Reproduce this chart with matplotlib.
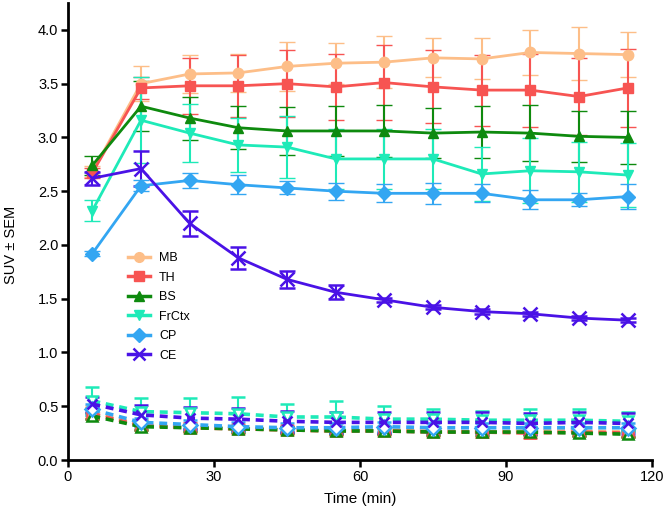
import matplotlib
matplotlib.use("Agg")
import matplotlib.pyplot as plt

plt.rcParams['font.family'] = ['Liberation Sans', 'DejaVu Sans']

time = [5, 15, 25, 35, 45, 55, 65, 75, 85, 95, 105, 115]
regions = ["MB", "TH", "BS", "FrCtx", "CP", "CE"]
colors = ["#FDBE88", "#F75452", "#0E8A0E", "#1EEAB8", "#33A6F2", "#4A12E6"]
markers = ["o", "s", "^", "v", "D", "x"]

# baseline scan (solid lines)
mb = [2.68, 3.50, 3.59, 3.60, 3.66, 3.69, 3.70, 3.74, 3.73, 3.79, 3.78, 3.77]
mb_err = [0.05, 0.16, 0.18, 0.18, 0.23, 0.19, 0.24, 0.18, 0.19, 0.21, 0.25, 0.21]
th = [2.67, 3.46, 3.48, 3.48, 3.50, 3.47, 3.51, 3.47, 3.44, 3.44, 3.38, 3.46]
th_err = [0.05, 0.10, 0.26, 0.29, 0.31, 0.31, 0.35, 0.34, 0.33, 0.34, 0.36, 0.36]
bs = [2.74, 3.29, 3.18, 3.09, 3.06, 3.06, 3.06, 3.04, 3.05, 3.04, 3.01, 3.00]
bs_err = [0.09, 0.23, 0.20, 0.20, 0.22, 0.23, 0.24, 0.23, 0.24, 0.26, 0.24, 0.25]
frctx = [2.32, 3.16, 3.04, 2.93, 2.91, 2.80, 2.80, 2.80, 2.66, 2.69, 2.68, 2.65]
frctx_err = [0.10, 0.40, 0.27, 0.25, 0.29, 0.28, 0.28, 0.28, 0.25, 0.30, 0.28, 0.30]
cp = [1.92, 2.55, 2.60, 2.56, 2.53, 2.50, 2.48, 2.48, 2.48, 2.42, 2.42, 2.45]
cp_err = [0.02, 0.05, 0.07, 0.09, 0.06, 0.08, 0.085, 0.10, 0.085, 0.09, 0.06, 0.12]
ce = [2.62, 2.71, 2.20, 1.88, 1.68, 1.56, 1.49, 1.42, 1.38, 1.36, 1.32, 1.30]
ce_err = [0.06, 0.16, 0.12, 0.10, 0.08, 0.065, 0.02, 0.02, 0.02, 0.02, 0.02, 0.02]

# blocked scan (dashed lines)
mb_b = [0.45, 0.33, 0.30, 0.29, 0.28, 0.27, 0.28, 0.27, 0.26, 0.27, 0.27, 0.26]
mb_b_err = [0.05, 0.04, 0.04, 0.04, 0.04, 0.04, 0.04, 0.04, 0.04, 0.04, 0.04, 0.04]
th_b = [0.43, 0.32, 0.30, 0.29, 0.28, 0.27, 0.27, 0.26, 0.26, 0.25, 0.26, 0.25]
th_b_err = [0.05, 0.04, 0.04, 0.04, 0.04, 0.04, 0.04, 0.04, 0.05, 0.05, 0.04, 0.04]
bs_b = [0.41, 0.31, 0.30, 0.29, 0.28, 0.27, 0.27, 0.26, 0.26, 0.26, 0.25, 0.24]
bs_b_err = [0.03, 0.03, 0.03, 0.03, 0.03, 0.03, 0.03, 0.03, 0.03, 0.03, 0.03, 0.03]
frctx_b = [0.55, 0.45, 0.44, 0.43, 0.40, 0.40, 0.38, 0.38, 0.37, 0.37, 0.37, 0.36]
frctx_b_err = [0.13, 0.13, 0.14, 0.16, 0.12, 0.15, 0.12, 0.09, 0.09, 0.10, 0.10, 0.09]
cp_b = [0.47, 0.35, 0.33, 0.31, 0.30, 0.30, 0.31, 0.30, 0.30, 0.30, 0.30, 0.30]
cp_b_err = [0.05, 0.04, 0.04, 0.04, 0.04, 0.04, 0.04, 0.04, 0.04, 0.04, 0.04, 0.04]
ce_b = [0.52, 0.42, 0.39, 0.38, 0.36, 0.35, 0.35, 0.35, 0.35, 0.34, 0.35, 0.34]
ce_b_err = [0.07, 0.09, 0.10, 0.10, 0.10, 0.10, 0.10, 0.10, 0.10, 0.10, 0.10, 0.10]

solid = [(mb, mb_err), (th, th_err), (bs, bs_err), (frctx, frctx_err), (cp, cp_err), (ce, ce_err)]
dashed = [(mb_b, mb_b_err), (th_b, th_b_err), (bs_b, bs_b_err), (frctx_b, frctx_b_err),
          (cp_b, cp_b_err), (ce_b, ce_b_err)]

fig = plt.figure(figsize=(6.66, 5.12), dpi=100)
ax = fig.add_axes([68 / 666, 1 - 460 / 512, 584 / 666, 457 / 512])

for (vals, err), col, mk in zip(dashed, colors, markers):
    ax.errorbar(time, vals, yerr=err, color=col, marker=mk, markersize=7,
                markerfacecolor="white" if mk != "x" else col, markeredgewidth=1.8,
                linestyle=(0, (2.2, 1.6)), linewidth=2.6, capsize=5, capthick=1.5, elinewidth=1.5)

handles = []
for (vals, err), col, mk, name in zip(solid, colors, markers, regions):
    ax.errorbar(time, vals, yerr=err, color=col, marker=mk,
                markersize=10 if mk == "x" else 7.5, markeredgewidth=1.8 if mk == "x" else 1,
                linewidth=2, capsize=6, capthick=1.5, elinewidth=1.5)
    h, = ax.plot([], [], color=col, marker=mk, markersize=9 if mk == "x" else 7,
                 markeredgewidth=1.8 if mk == "x" else 1, linewidth=2.5, label=name)
    handles.append(h)

ax.set_xlim(0, 120)
ax.set_ylim(0, 4.25)
ax.set_xticks([0, 30, 60, 90, 120])
ax.set_yticks([0, 0.5, 1.0, 1.5, 2.0, 2.5, 3.0, 3.5, 4.0])
ax.set_yticklabels(["0.0", "0.5", "1.0", "1.5", "2.0", "2.5", "3.0", "3.5", "4.0"])
ax.spines["top"].set_visible(False)
ax.spines["right"].set_visible(False)
ax.spines["left"].set_linewidth(2)
ax.spines["bottom"].set_linewidth(2)
ax.tick_params(length=5, width=1.8, labelsize=10.5, color="black", pad=2)
ax.set_xlabel("Time (min)", fontsize=11, labelpad=6)
ax.set_ylabel("SUV \u00b1 SEM", fontsize=10.5, labelpad=6)
ax.yaxis.set_label_coords(-0.085, 0.47)

ax.legend(handles=handles, loc="upper left", bbox_to_anchor=(0.099, 0.46), frameon=False,
          fontsize=9, handlelength=1.7, handletextpad=0.75, labelspacing=0.6,
          borderaxespad=0, borderpad=0.2)

fig.savefig("out.png", dpi=100)
